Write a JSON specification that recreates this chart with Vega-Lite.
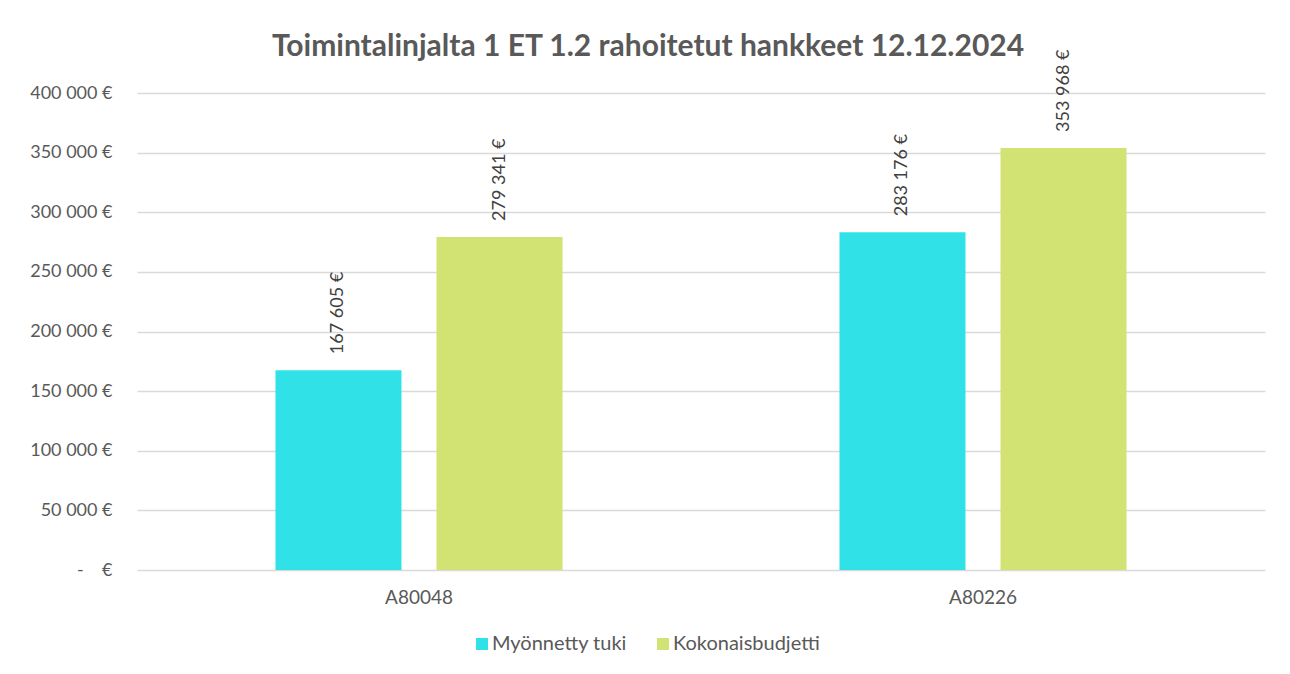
{
  "$schema": "https://vega.github.io/schema/vega-lite/v6.json",
  "width": 1128,
  "height": 477,
  "autosize": {"type": "none"},
  "padding": {"left": 137, "top": 93, "right": 25, "bottom": 104},
  "background": "white",
  "title": {
    "text": "Toimintalinjalta 1 ET 1.2 rahoitetut hankkeet 12.12.2024",
    "anchor": "middle",
    "dx": -53,
    "dy": 40,
    "offset": 28,
    "font": "Lato",
    "fontSize": 30,
    "fontWeight": "bold",
    "color": "#595959"
  },
  "config": {
    "view": {"stroke": null},
    "font": "Lato",
    "locale": {
      "number": {"decimal": ",", "thousands": " ", "grouping": [3], "currency": ["", " €"]}
    }
  },
  "data": {
    "values": [
      {"hanke": "A80048", "sarja": "Myönnetty tuki", "arvo": 167605},
      {"hanke": "A80048", "sarja": "Kokonaisbudjetti", "arvo": 279341},
      {"hanke": "A80226", "sarja": "Myönnetty tuki", "arvo": 283176},
      {"hanke": "A80226", "sarja": "Kokonaisbudjetti", "arvo": 353968}
    ]
  },
  "encoding": {
    "x": {
      "field": "hanke",
      "type": "nominal",
      "scale": {"paddingInner": 0.491, "paddingOuter": 0.2455},
      "axis": {
        "title": null,
        "labelAngle": 0,
        "labelFontSize": 19,
        "labelColor": "#595959",
        "labelPadding": 18,
        "ticks": false,
        "domain": false
      }
    },
    "xOffset": {
      "field": "sarja",
      "type": "nominal",
      "sort": ["Myönnetty tuki", "Kokonaisbudjetti"],
      "scale": {"paddingInner": 0.2174, "paddingOuter": 0}
    },
    "y": {
      "field": "arvo",
      "type": "quantitative",
      "scale": {"domain": [0, 400000], "nice": false},
      "axis": {
        "title": null,
        "values": [0, 50000, 100000, 150000, 200000, 250000, 300000, 350000, 400000],
        "labelExpr": "datum.value == 0 ? '-\u00a0\u00a0\u00a0 €' : format(datum.value, '$,.0f')",
        "labelFontSize": 18,
        "labelColor": "#595959",
        "labelPadding": 25,
        "ticks": false,
        "domain": false,
        "grid": true,
        "gridColor": "#d9d9d9",
        "gridWidth": 1.5
      }
    }
  },
  "layer": [
    {
      "mark": {"type": "bar"},
      "encoding": {
        "color": {
          "field": "sarja",
          "type": "nominal",
          "scale": {
            "domain": ["Myönnetty tuki", "Kokonaisbudjetti"],
            "range": ["#30E2E7", "#D3E373"]
          },
          "legend": {
            "title": null,
            "orient": "none",
            "direction": "horizontal",
            "legendX": 335,
            "legendY": 541,
            "symbolType": "square",
            "symbolSize": 144,
            "symbolStrokeWidth": 0,
            "labelFontSize": 20,
            "labelColor": "#595959",
            "columnPadding": 26,
            "labelOffset": 0
          }
        }
      }
    },
    {
      "mark": {
        "type": "text",
        "angle": 270,
        "align": "left",
        "baseline": "middle",
        "dx": 16,
        "fontSize": 18,
        "color": "#404040",
        "font": "Lato"
      },
      "encoding": {
        "text": {"field": "arvo", "type": "quantitative", "format": "$,.0f"}
      }
    }
  ]
}
